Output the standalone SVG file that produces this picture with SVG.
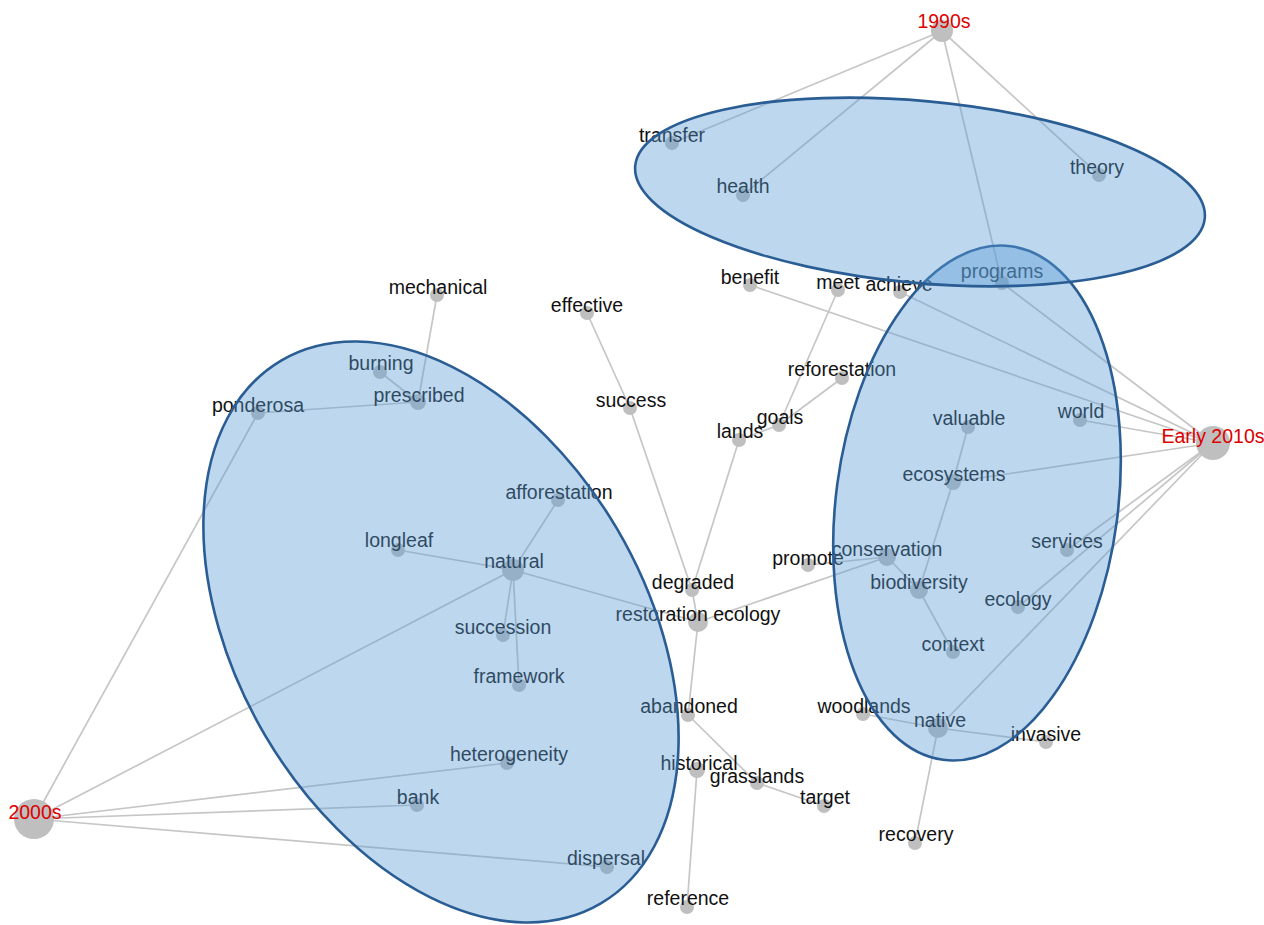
<svg xmlns="http://www.w3.org/2000/svg" width="1264" height="925" viewBox="0 0 1264 925">
<style>
.e{stroke:#c6c6c6;stroke-width:1.7;fill:none}
.n{fill:#bfbfbf}
.t{font-family:"Liberation Sans",Arial,sans-serif;font-size:19.5px;fill:#111;text-anchor:middle}
.p{fill:#dd0000}
.cl{fill:#5b9bd5;fill-opacity:0.4;stroke:#2a5d94;stroke-width:2.6}
</style>
<rect width="1264" height="925" fill="#fff"/>
<g id="connectors">
<line class="e" x1="942" y1="31" x2="672" y2="143"/>
<line class="e" x1="942" y1="31" x2="743" y2="195"/>
<line class="e" x1="942" y1="31" x2="1002" y2="283"/>
<line class="e" x1="942" y1="31" x2="1099" y2="175"/>
<line class="e" x1="1213" y1="443" x2="750" y2="285"/>
<line class="e" x1="1213" y1="443" x2="900" y2="292"/>
<line class="e" x1="1213" y1="443" x2="1002" y2="283"/>
<line class="e" x1="1213" y1="443" x2="1080" y2="420"/>
<line class="e" x1="1213" y1="443" x2="953" y2="482"/>
<line class="e" x1="1213" y1="443" x2="1067" y2="550"/>
<line class="e" x1="1213" y1="443" x2="1018" y2="607"/>
<line class="e" x1="1213" y1="443" x2="938" y2="728"/>
<line class="e" x1="34" y1="819" x2="258" y2="413"/>
<line class="e" x1="34" y1="819" x2="513" y2="570"/>
<line class="e" x1="34" y1="819" x2="507" y2="763"/>
<line class="e" x1="34" y1="819" x2="417" y2="805"/>
<line class="e" x1="34" y1="819" x2="607" y2="867"/>
<line class="e" x1="258" y1="413" x2="418" y2="402"/>
<line class="e" x1="418" y1="402" x2="380" y2="372"/>
<line class="e" x1="418" y1="402" x2="437" y2="295"/>
<line class="e" x1="513" y1="570" x2="558" y2="500"/>
<line class="e" x1="513" y1="570" x2="398" y2="550"/>
<line class="e" x1="513" y1="570" x2="503" y2="635"/>
<line class="e" x1="513" y1="570" x2="519" y2="685"/>
<line class="e" x1="513" y1="570" x2="698" y2="622"/>
<line class="e" x1="587" y1="313" x2="630" y2="408"/>
<line class="e" x1="630" y1="408" x2="692" y2="590"/>
<line class="e" x1="692" y1="590" x2="698" y2="622"/>
<line class="e" x1="739" y1="440" x2="692" y2="590"/>
<line class="e" x1="739" y1="440" x2="779" y2="425"/>
<line class="e" x1="779" y1="425" x2="842" y2="378"/>
<line class="e" x1="779" y1="425" x2="838" y2="290"/>
<line class="e" x1="698" y1="622" x2="887" y2="557"/>
<line class="e" x1="808" y1="565" x2="887" y2="557"/>
<line class="e" x1="698" y1="622" x2="688" y2="715"/>
<line class="e" x1="688" y1="715" x2="757" y2="783"/>
<line class="e" x1="757" y1="783" x2="824" y2="806"/>
<line class="e" x1="697" y1="770" x2="687" y2="907"/>
<line class="e" x1="887" y1="557" x2="919" y2="590"/>
<line class="e" x1="919" y1="590" x2="953" y2="482"/>
<line class="e" x1="953" y1="482" x2="968" y2="427"/>
<line class="e" x1="919" y1="590" x2="953" y2="652"/>
<line class="e" x1="938" y1="728" x2="863" y2="714"/>
<line class="e" x1="938" y1="728" x2="1046" y2="742"/>
<line class="e" x1="938" y1="728" x2="915" y2="843"/>
</g>
<g id="n1990s"><circle class="n" cx="942" cy="31" r="11"/><text class="t p" x="944" y="28">1990s</text></g>
<g id="nEarly2010s"><circle class="n" cx="1213" cy="443" r="17"/><text class="t p" x="1213" y="443">Early 2010s</text></g>
<g id="n2000s"><circle class="n" cx="34" cy="819" r="20"/><text class="t p" x="35" y="819">2000s</text></g>
<g id="ntransfer"><circle class="n" cx="672" cy="143" r="7"/><text class="t" x="672" y="142">transfer</text></g>
<g id="nhealth"><circle class="n" cx="743" cy="195" r="7"/><text class="t" x="743" y="193">health</text></g>
<g id="ntheory"><circle class="n" cx="1099" cy="175" r="7"/><text class="t" x="1097" y="174">theory</text></g>
<g id="nprograms"><circle class="n" cx="1002" cy="283" r="7"/><text class="t" x="1002" y="278">programs</text></g>
<g id="nbenefit"><circle class="n" cx="750" cy="285" r="7"/><text class="t" x="750" y="284">benefit</text></g>
<g id="nmeet"><circle class="n" cx="838" cy="290" r="7"/><text class="t" x="838" y="289">meet</text></g>
<g id="nachieve"><circle class="n" cx="900" cy="292" r="7"/><text class="t" x="899" y="291">achieve</text></g>
<g id="nmechanical"><circle class="n" cx="437" cy="295" r="7"/><text class="t" x="438" y="294">mechanical</text></g>
<g id="neffective"><circle class="n" cx="587" cy="313" r="7"/><text class="t" x="587" y="312">effective</text></g>
<g id="nburning"><circle class="n" cx="380" cy="372" r="7"/><text class="t" x="381" y="370">burning</text></g>
<g id="nprescribed"><circle class="n" cx="418" cy="402" r="8"/><text class="t" x="419" y="402">prescribed</text></g>
<g id="nponderosa"><circle class="n" cx="258" cy="413" r="7"/><text class="t" x="258" y="412">ponderosa</text></g>
<g id="nreforestation"><circle class="n" cx="842" cy="378" r="7"/><text class="t" x="842" y="376">reforestation</text></g>
<g id="nsuccess"><circle class="n" cx="630" cy="408" r="7"/><text class="t" x="631" y="407">success</text></g>
<g id="ngoals"><circle class="n" cx="779" cy="425" r="7"/><text class="t" x="780" y="424">goals</text></g>
<g id="nlands"><circle class="n" cx="739" cy="440" r="7"/><text class="t" x="740" y="438">lands</text></g>
<g id="nvaluable"><circle class="n" cx="968" cy="427" r="7"/><text class="t" x="969" y="425">valuable</text></g>
<g id="nworld"><circle class="n" cx="1080" cy="420" r="7"/><text class="t" x="1081" y="418">world</text></g>
<g id="nafforestation"><circle class="n" cx="558" cy="500" r="7"/><text class="t" x="559" y="499">afforestation</text></g>
<g id="necosystems"><circle class="n" cx="953" cy="482" r="8"/><text class="t" x="954" y="481">ecosystems</text></g>
<g id="nlongleaf"><circle class="n" cx="398" cy="550" r="7"/><text class="t" x="399" y="547">longleaf</text></g>
<g id="nnatural"><circle class="n" cx="513" cy="570" r="11"/><text class="t" x="514" y="568">natural</text></g>
<g id="ndegraded"><circle class="n" cx="692" cy="590" r="7"/><text class="t" x="693" y="589">degraded</text></g>
<g id="npromote"><circle class="n" cx="808" cy="565" r="7"/><text class="t" x="808" y="565">promote</text></g>
<g id="nconservation"><circle class="n" cx="887" cy="557" r="9"/><text class="t" x="887" y="556">conservation</text></g>
<g id="nbiodiversity"><circle class="n" cx="919" cy="590" r="9"/><text class="t" x="919" y="589">biodiversity</text></g>
<g id="nservices"><circle class="n" cx="1067" cy="550" r="7"/><text class="t" x="1067" y="548">services</text></g>
<g id="nrestoration"><circle class="n" cx="698" cy="622" r="10"/><text class="t" x="698" y="621">restoration ecology</text></g>
<g id="necology"><circle class="n" cx="1018" cy="607" r="7"/><text class="t" x="1018" y="606">ecology</text></g>
<g id="nsuccession"><circle class="n" cx="503" cy="635" r="7"/><text class="t" x="503" y="634">succession</text></g>
<g id="ncontext"><circle class="n" cx="953" cy="652" r="7"/><text class="t" x="953" y="651">context</text></g>
<g id="nframework"><circle class="n" cx="519" cy="685" r="7"/><text class="t" x="519" y="683">framework</text></g>
<g id="nabandoned"><circle class="n" cx="688" cy="715" r="7"/><text class="t" x="689" y="713">abandoned</text></g>
<g id="nwoodlands"><circle class="n" cx="863" cy="714" r="7"/><text class="t" x="864" y="713">woodlands</text></g>
<g id="nnative"><circle class="n" cx="938" cy="728" r="10"/><text class="t" x="940" y="727">native</text></g>
<g id="ninvasive"><circle class="n" cx="1046" cy="742" r="7"/><text class="t" x="1046" y="741">invasive</text></g>
<g id="nheterogeneity"><circle class="n" cx="507" cy="763" r="7"/><text class="t" x="509" y="761">heterogeneity</text></g>
<g id="nhistorical"><circle class="n" cx="697" cy="770" r="8"/><text class="t" x="699" y="770">historical</text></g>
<g id="ngrasslands"><circle class="n" cx="757" cy="783" r="7"/><text class="t" x="757" y="783">grasslands</text></g>
<g id="ntarget"><circle class="n" cx="824" cy="806" r="7"/><text class="t" x="825" y="804">target</text></g>
<g id="nbank"><circle class="n" cx="417" cy="805" r="7"/><text class="t" x="418" y="804">bank</text></g>
<g id="nrecovery"><circle class="n" cx="915" cy="843" r="7"/><text class="t" x="916" y="841">recovery</text></g>
<g id="ndispersal"><circle class="n" cx="607" cy="867" r="7"/><text class="t" x="606" y="865">dispersal</text></g>
<g id="nreference"><circle class="n" cx="687" cy="907" r="7"/><text class="t" x="688" y="905">reference</text></g>
<g id="clusters">
<ellipse id="cluster2000s" class="cl" cx="441" cy="632" rx="204" ry="315" transform="rotate(-30.5 441 632)"/>
<ellipse id="cluster2010s" class="cl" cx="977" cy="503" rx="141" ry="259" transform="rotate(7.5 977 503)"/>
<ellipse id="cluster1990s" class="cl" cx="920" cy="192" rx="286" ry="91" transform="rotate(5.25 920 192)"/>
</g>
</svg>
